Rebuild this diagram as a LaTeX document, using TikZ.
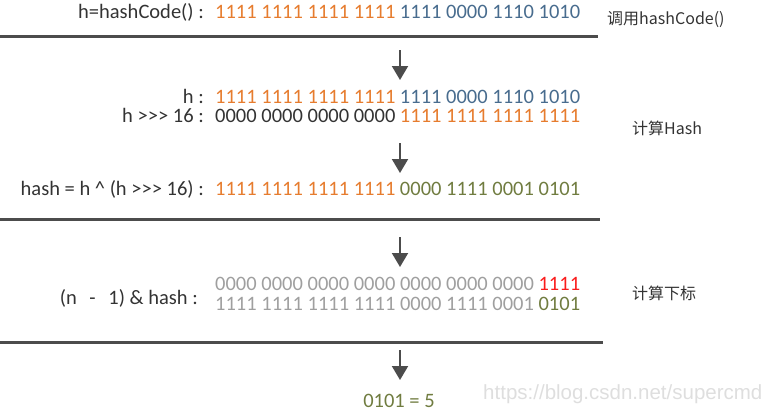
\documentclass[tikz,border=0pt]{standalone}
\usepackage{fontspec}
\setmainfont{Carlito}
\newfontfamily\cjkfont{Noto Sans CJK SC}
\newfontfamily\markfont{Liberation Sans}
\usetikzlibrary{arrows.meta}
\definecolor{bitHigh}{RGB}{230,124,46}
\definecolor{bitLow}{RGB}{72,108,142}
\definecolor{bitMix}{RGB}{112,124,64}
\definecolor{bitHit}{RGB}{250,28,28}
\colorlet{bitMask}{gray!75}
\colorlet{textColor}{black!80}
\colorlet{ruleColor}{black!70}
\colorlet{markColor}{black!13}

\begin{document}
\begin{tikzpicture}[x=1pt,y=-1pt,
  lbl/.style={anchor=base east,inner sep=0pt,text=textColor,font=\fontsize{20.5}{24}\selectfont},
  bits/.style={anchor=base west,inner sep=0pt,text=textColor,font=\fontsize{20.5}{24}\selectfont},
  note/.style={anchor=base west,inner sep=0pt,text=textColor,font=\cjkfont\fontsize{16}{20}\selectfont},
  sep/.style={ruleColor,line width=3pt},
  down/.style={ruleColor,line width=2pt,-{Triangle[width=16pt,length=14pt]}}]
\useasboundingbox (0,0) rectangle (767,416);

% step 1: hashCode
\node[lbl] (callLbl) at (204,18) {h=hashCode() :};
\node[bits] (callBits) at (215,18) {\color{bitHigh}1111 1111 1111 1111 \color{bitLow}1111 0000 1110 1010};
\node[note] (callNote) at (607,24) {调用hashCode()};
\coordinate (r1l) at (0,36);
\coordinate (r1r) at (598,36);
\draw[sep] (r1l) -- (r1r);
\coordinate (d1a) at (400,50);
\coordinate (d1b) at (400,80);
\draw[down] (d1a) -- (d1b);

% step 2: hash
\node[lbl] (hLbl) at (204,103) {h :};
\node[bits] (hBits) at (215,103) {\color{bitHigh}1111 1111 1111 1111 \color{bitLow}1111 0000 1110 1010};
\node[lbl] (shLbl) at (204,122) {h >{}>{}> 16 :};
\node[bits] (shBits) at (215,122) {0000 0000 0000 0000 \color{bitHigh}1111 1111 1111 1111};
\node[note] (hashNote) at (632,134) {计算Hash};
\coordinate (d2a) at (400,143);
\coordinate (d2b) at (400,173);
\draw[down] (d2a) -- (d2b);
\node[lbl] (xorLbl) at (204,195) {hash = h \^{} (h >{}>{}> 16) :};
\node[bits] (xorBits) at (215,195) {\color{bitHigh}1111 1111 1111 1111 \color{bitMix}0000 1111 0001 0101};
\coordinate (r2l) at (0,219);
\coordinate (r2r) at (600,219);
\draw[sep] (r2l) -- (r2r);

% step 3: index
\coordinate (d3a) at (400,237);
\coordinate (d3b) at (400,267);
\draw[down] (d3a) -- (d3b);
\node[lbl] (andLbl) at (198,304) {(n \,~-~\, 1) \& hash :};
\node[bits,text=bitMask] (maskBits) at (215,290) {0000 0000 0000 0000 0000 0000 0000 \color{bitHit}1111};
\node[bits,text=bitMask] (hashBits) at (215,310) {1111 1111 1111 1111 0000 1111 0001 \color{bitMix}0101};
\node[note] (idxNote) at (632,299) {计算下标};
\coordinate (r3l) at (0,342);
\coordinate (r3r) at (603,342);
\draw[sep] (r3l) -- (r3r);
\coordinate (d4a) at (400,350);
\coordinate (d4b) at (400,380);
\draw[down] (d4a) -- (d4b);
\node[bits,anchor=base,text=bitMix] (result) at (399,407) {0101 = 5};

\node[anchor=base west,inner sep=0pt,text=markColor,font=\markfont\fontsize{20.5}{24}\selectfont] (mark) at (483,399) {https://blog.csdn.net/supercmd};
\end{tikzpicture}
\end{document}
